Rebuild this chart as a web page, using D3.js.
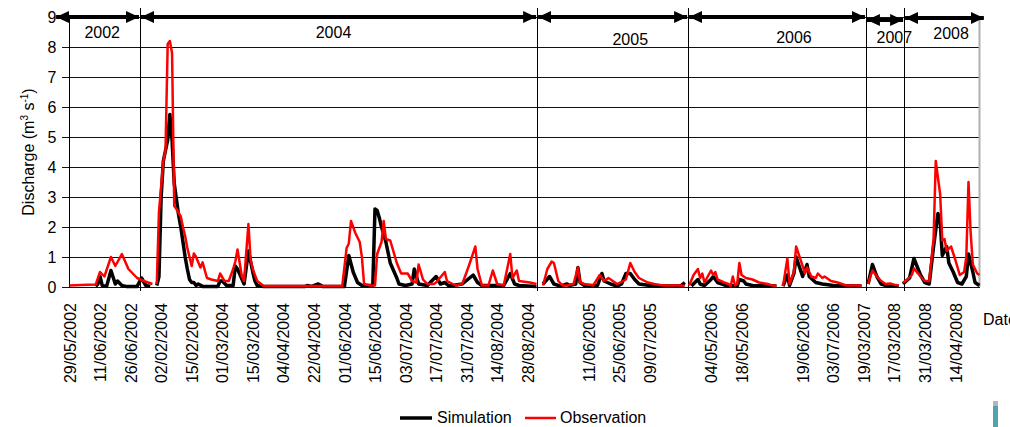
<!DOCTYPE html>
<html>
<head>
<meta charset="utf-8">
<script src="https://cdn.jsdelivr.net/npm/d3@7"></script>
<style>
  body { margin: 0; background: #fff; }
  svg { display: block; font-family: "Liberation Sans", Arial, sans-serif; }
</style>
</head>
<body>
<svg id="chart"></svg>
<script>
// number of daily categories on the x axis
let nDays = 418;

// date labels, one every 14 categories (blank where the original had none)
let tickDays = d3.range(0, nDays, 14);
let tickLabels = ['29/05/2002', '11/06/2002', '26/06/2002', '02/02/2004', '15/02/2004', '01/03/2004',
    '15/03/2004', '04/04/2004', '22/04/2004', '01/06/2004', '15/06/2004', '03/07/2004', '17/07/2004',
    '31/07/2004', '14/08/2004', '28/08/2004', '', '11/06/2005', '25/06/2005', '09/07/2005', '',
    '04/05/2006', '18/05/2006', '', '19/06/2006', '03/07/2006', '19/03/2007', '17/03/2008',
    '31/03/2008', '14/04/2008'];

// year periods: label, first and last category
let years = ['2002', '2004', '2005', '2006', '2007', '2008'];
let yearStart = [-6.6, 32.3, 214.3, 283.5, 365, 382.5];
let yearEnd = [32.3, 214.3, 283.5, 365, 382.5, 419.5];
let yearLabelDay = [15, 121, 257, 332, 378, 404];

// simulated discharge [day, m3/s], null = gap between periods
let simPoints = [
    [12, 0.02], [13, 0.1], [14, 0.35], [15, 0.05], [17, 0.02], [19, 0.55], [21, 0.1], [22, 0.2],
    [24, 0.05], [26, 0.02], [31, 0.02], [33, 0.3], [35, 0.05], [37, 0.02], [38, null],
    [40, 0.05], [41, 0.35], [42, 3.0], [43, 4.2], [44, 4.55], [45, 4.9], [46, 5.75], [47, 4.9],
    [48, 3.45], [50, 2.4], [51, 2.0], [52, 1.5], [53, 1.0], [54, 0.6], [55, 0.25], [56, 0.15],
    [57, 0.15], [58, 0.05], [59, 0.1], [61, 0.02], [68, 0.02], [69, 0.2], [70, 0.2], [72, 0.05],
    [75, 0.05], [76, 0.7], [77, 0.6], [80, 0.1], [82, 1.2], [84, 0.5], [85, 0.2], [86, 0.05],
    [89, 0.02], [108, 0.02], [109, 0.05], [111, 0.02], [114, 0.1], [116, 0.02], [126, 0.02],
    [128, 1.05], [130, 0.5], [132, 0.15], [134, 0.05], [139, 0.05], [140, 2.6], [141, 2.55],
    [142, 2.3], [143, 2.0], [145, 1.5], [147, 0.8], [150, 0.3], [151, 0.1], [154, 0.05],
    [157, 0.1], [158, 0.6], [160, 0.1], [164, 0.05], [168, 0.35], [170, 0.1], [172, 0.15],
    [174, 0.03], [180, 0.1], [185, 0.4], [187, 0.15], [189, 0.05], [194, 0.05], [199, 0.05],
    [202, 0.45], [204, 0.1], [206, 0.05], [214, 0.02], [215, null],
    [217, 0.1], [220, 0.35], [222, 0.1], [225, 0.03], [228, 0.1], [229, 0.05], [232, 0.1],
    [233, 0.65], [234, 0.15], [236, 0.05], [242, 0.05], [244, 0.45], [245, 0.2], [248, 0.1],
    [251, 0.03], [253, 0.1], [255, 0.45], [257, 0.45], [259, 0.25], [261, 0.1], [266, 0.05],
    [270, 0.03], [280, 0.03], [282, 0.15], [283, null],
    [285, 0.03], [288, 0.25], [289, 0.1], [291, 0.05], [294, 0.25], [295, 0.35], [297, 0.15],
    [301, 0.05], [306, 0.03], [307, 0.25], [309, 0.2], [310, 0.1], [313, 0.05], [324, 0.03],
    [325, null],
    [327, 0.03], [329, 0.4], [330, 0.05], [332, 0.45], [333, 1.0], [336, 0.35], [338, 0.75],
    [339, 0.35], [342, 0.15], [345, 0.1], [350, 0.05], [363, 0.03], [364, null],
    [366, 0.1], [368, 0.75], [370, 0.35], [372, 0.1], [375, 0.03], [380, 0.03], [381, null],
    [382, 0.1], [385, 0.3], [387, 0.95], [390, 0.4], [392, 0.15], [394, 0.1], [396, 1.35],
    [398, 2.45], [399, 2.2], [400, 1.05], [402, 1.35], [403, 0.8], [405, 0.5], [407, 0.15],
    [409, 0.1], [411, 0.35], [412, 1.1], [414, 0.5], [415, 0.15], [417, 0.05]
];

// observed discharge [day, m3/s]
let obsPoints = [
    [0, 0.05], [5, 0.07], [12, 0.08], [14, 0.5], [16, 0.35], [19, 1.0], [21, 0.7], [24, 1.1],
    [27, 0.6], [29, 0.45], [31, 0.3], [34, 0.2], [36, 0.15], [38, 0.1], [39, null],
    [40, 0.1], [41, 2.5], [43, 4.2], [44, 4.55], [45, 8.1], [46, 8.2], [47, 7.8], [48, 2.7],
    [49, 2.6], [51, 2.35], [52, 2.0], [53, 1.7], [54, 1.3], [56, 0.7], [57, 1.12], [58, 1.0],
    [60, 0.65], [61, 0.82], [63, 0.3], [65, 0.25], [68, 0.2], [69, 0.45], [71, 0.2], [73, 0.2],
    [75, 0.6], [76, 0.85], [77, 1.25], [79, 0.35], [80, 0.2], [82, 2.1], [83, 0.9], [84, 0.6],
    [86, 0.2], [89, 0.03], [125, 0.03], [127, 1.3], [128, 1.45], [129, 2.2], [131, 1.8],
    [133, 1.5], [134, 1.0], [135, 0.1], [138, 0.05], [140, 0.05], [141, 1.1], [143, 1.5],
    [144, 2.2], [145, 1.6], [147, 1.55], [150, 0.8], [152, 0.45], [155, 0.45], [157, 0.2],
    [159, 0.15], [160, 0.75], [162, 0.25], [164, 0.1], [167, 0.1], [168, 0.15], [172, 0.5],
    [173, 0.2], [177, 0.05], [180, 0.1], [183, 0.7], [186, 1.35], [187, 0.6], [189, 0.05],
    [192, 0.05], [194, 0.55], [196, 0.1], [199, 0.05], [202, 1.1], [203, 0.3], [205, 0.55],
    [206, 0.2], [211, 0.15], [214, 0.1], [215, null],
    [217, 0.05], [219, 0.6], [221, 0.85], [222, 0.8], [224, 0.2], [226, 0.05], [228, 0.05],
    [231, 0.1], [233, 0.65], [234, 0.15], [236, 0.1], [240, 0.05], [243, 0.4], [245, 0.2],
    [247, 0.3], [249, 0.2], [251, 0.1], [255, 0.25], [257, 0.8], [259, 0.5], [261, 0.3],
    [265, 0.15], [268, 0.1], [272, 0.05], [280, 0.05], [282, 0.03], [283, null],
    [284, 0.05], [286, 0.4], [288, 0.6], [289, 0.3], [290, 0.45], [291, 0.15], [294, 0.55],
    [295, 0.4], [296, 0.5], [297, 0.25], [300, 0.15], [302, 0.1], [303, 0.03], [304, 0.35],
    [305, 0.05], [306, 0.1], [307, 0.8], [308, 0.4], [310, 0.3], [313, 0.25], [316, 0.15],
    [320, 0.1], [322, 0.05], [324, 0.03], [325, null],
    [327, 0.03], [329, 0.95], [330, 0.1], [332, 0.5], [333, 1.35], [336, 0.7], [337, 0.45],
    [338, 0.65], [340, 0.35], [342, 0.3], [343, 0.45], [345, 0.3], [346, 0.35], [349, 0.2],
    [352, 0.15], [356, 0.05], [362, 0.05], [363, 0.03], [364, null],
    [366, 0.1], [367, 0.35], [368, 0.55], [370, 0.35], [372, 0.2], [374, 0.1], [376, 0.12],
    [378, 0.08], [380, 0.05], [381, null],
    [382, 0.15], [384, 0.25], [386, 0.4], [387, 0.62], [390, 0.35], [392, 0.2], [394, 0.2],
    [396, 1.6], [397, 4.2], [399, 3.1], [400, 1.55], [401, 1.6], [402, 1.2], [404, 1.35],
    [406, 0.9], [408, 0.4], [410, 0.5], [411, 1.0], [412, 3.5], [413, 1.8], [414, 0.75],
    [416, 0.45], [417, 0.4]
];

let yTicks = d3.range(0, 10);

// canvas
let width = 1010;
let height = 427;
let svg = d3.select('#chart').attr('width', width).attr('height', height);

let xScale = d3.scaleLinear().domain([0, nDays - 1]).range([69.5, 979.4]);
let yScale = d3.scaleLinear().domain([0, 9]).range([287, 17]);

// gridlines + y axis labels
let yAxis = d3.axisLeft(yScale).tickValues(yTicks).tickSizeOuter(0);
let gy = svg.append('g')
    .attr('transform', 'translate(69.5,0)')
    .call(yAxis);
gy.select('.domain').remove();
gy.selectAll('.tick line')
    .attr('x1', -8)
    .attr('x2', 910)
    .attr('stroke', '#111')
    .attr('shape-rendering', 'crispEdges');
gy.selectAll('.tick text')
    .attr('x', -13)
    .style('font-size', '16px')
    .style('font-family', '"Liberation Sans", Arial, sans-serif')
    .attr('fill', '#000');

// right border and left axis line
svg.append('line')
    .attr('x1', 979.5).attr('x2', 979.5).attr('y1', 17).attr('y2', 287)
    .attr('stroke', '#b0b0b0').attr('stroke-width', 2);
svg.append('line')
    .attr('x1', 69.5).attr('x2', 69.5).attr('y1', 17).attr('y2', 287)
    .attr('stroke', '#000');

// separators between periods
svg.selectAll('.sep')
    .data(yearStart.slice(1))
    .enter()
    .append('line')
    .attr('class', 'sep')
    .attr('x1', d => Math.round(xScale(d)) + 0.5)
    .attr('x2', d => Math.round(xScale(d)) + 0.5)
    .attr('y1', 8)
    .attr('y2', 291)
    .attr('stroke', '#000');

// x axis date labels
let xAxis = d3.axisBottom(xScale)
    .tickValues(tickDays)
    .tickFormat((d, i) => tickLabels[i])
    .tickSize(0);
let gx = svg.append('g')
    .attr('transform', 'translate(0,287)')
    .call(xAxis);
gx.select('.domain').remove();
gx.selectAll('.tick text')
    .attr('transform', 'rotate(-90)')
    .attr('x', -16)
    .attr('y', 0)
    .attr('dy', '0.35em')
    .style('text-anchor', 'end')
    .style('font-size', '16px')
    .style('font-family', '"Liberation Sans", Arial, sans-serif')
    .attr('fill', '#000');

// series lines
let line = d3.line()
    .defined(d => d[1] !== null)
    .x(d => xScale(d[0]))
    .y(d => yScale(d[1]));

svg.append('path')
    .datum(simPoints)
    .attr('d', line)
    .attr('fill', 'none')
    .attr('stroke', '#000')
    .attr('stroke-width', 3.5)
    .attr('stroke-linejoin', 'round');

svg.append('path')
    .datum(obsPoints)
    .attr('d', line)
    .attr('fill', 'none')
    .attr('stroke', '#ff0000')
    .attr('stroke-width', 2.5)
    .attr('stroke-linejoin', 'round');

// period arrows on top
let defs = svg.append('defs');
defs.append('marker')
    .attr('id', 'head')
    .attr('viewBox', '0 0 13 12')
    .attr('refX', 13).attr('refY', 6)
    .attr('markerWidth', 13).attr('markerHeight', 12)
    .attr('markerUnits', 'userSpaceOnUse')
    .attr('orient', 'auto-start-reverse')
    .append('path')
    .attr('d', 'M0,0 L13,6 L0,12 Z')
    .attr('fill', '#000');

let arrowY = [17, 17, 17, 17, 20, 18];
svg.selectAll('.arrow')
    .data(years)
    .enter()
    .append('line')
    .attr('class', 'arrow')
    .attr('x1', (d, i) => xScale(yearStart[i]) + 1)
    .attr('x2', (d, i) => xScale(yearEnd[i]) - 1)
    .attr('y1', (d, i) => arrowY[i])
    .attr('y2', (d, i) => arrowY[i])
    .attr('stroke', '#000')
    .attr('stroke-width', 4)
    .attr('marker-start', 'url(#head)')
    .attr('marker-end', 'url(#head)');

let labelY = [38, 38, 45, 43, 43, 39];
svg.selectAll('.year')
    .data(years)
    .enter()
    .append('text')
    .attr('class', 'year')
    .attr('x', (d, i) => xScale(yearLabelDay[i]))
    .attr('y', (d, i) => labelY[i])
    .attr('text-anchor', 'middle')
    .style('font-size', '16px')
    .text(d => d);

// y title
let yt = svg.append('text')
    .attr('transform', 'translate(34,152) rotate(-90)')
    .attr('text-anchor', 'middle')
    .style('font-size', '16px');
yt.append('tspan').text('Discharge (m');
yt.append('tspan').attr('dy', -6).style('font-size', '10px').text('3');
yt.append('tspan').attr('dy', 6).text(' s');
yt.append('tspan').attr('dy', -6).style('font-size', '10px').text('-1');
yt.append('tspan').attr('dy', 6).text(')');

// x title, cut by the page edge as in the original
svg.append('text')
    .attr('x', 983)
    .attr('y', 325)
    .style('font-size', '16px')
    .text('Date');

// legend
let legend = svg.append('g');
legend.append('line')
    .attr('x1', 400).attr('x2', 432).attr('y1', 418).attr('y2', 418)
    .attr('stroke', '#000').attr('stroke-width', 3.5);
legend.append('text').attr('x', 437).attr('y', 423).style('font-size', '16px').text('Simulation');
legend.append('line')
    .attr('x1', 525).attr('x2', 556).attr('y1', 418).attr('y2', 418)
    .attr('stroke', '#ff0000').attr('stroke-width', 2.5);
legend.append('text').attr('x', 560).attr('y', 423).style('font-size', '16px').text('Observation');

// small marker at bottom right of the original figure
svg.append('rect').attr('x', 993).attr('y', 401).attr('width', 5).attr('height', 26).attr('fill', '#4fa3ad');
svg.append('rect').attr('x', 993).attr('y', 401).attr('width', 5).attr('height', 5).attr('fill', '#a9b9bb');
</script>
</body>
</html>
